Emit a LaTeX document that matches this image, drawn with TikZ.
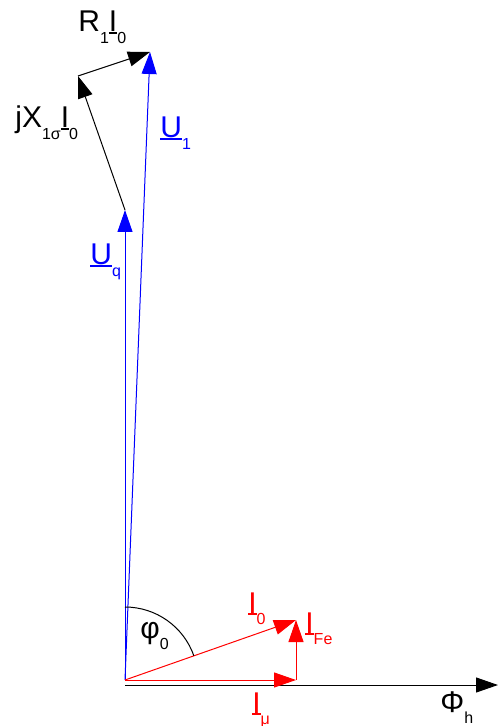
\documentclass[tikz,border=0pt]{standalone}
\usepackage{fontspec}
\setmainfont{Liberation Sans}
\usetikzlibrary{arrows.meta}
\newcommand{\sbs}[1]{\raisebox{-5.6pt}{\fontsize{8}{8}\selectfont #1}}
\newcommand{\ulin}[1]{\setbox0\hbox{#1}\rlap{\rule[-0.9pt]{\wd0}{0.9pt}}\box0}
\newcommand{\phs}[2]{\ulin{#1}\sbs{#2}}

\begin{document}
\begin{tikzpicture}[x=0.5pt,y=-0.5pt,
	vec/.style={-{Triangle[length=11pt,width=7.5pt]},line width=0.5pt},
	lbl/.style={inner sep=0pt,anchor=base west,font=\fontsize{15}{17}\selectfont}]
\useasboundingbox (0,0) rectangle (498,726);
% points of the diagram
\coordinate (O)   at (125,680);
\coordinate (A0)  at (125,685);
\coordinate (Ph)  at (498,685);
\coordinate (Uq)  at (125,210);
\coordinate (Jx)  at (78,76);
\coordinate (U1)  at (150,52);
\coordinate (Imu) at (296,680);
\coordinate (I0)  at (296,620);
% axis
\draw[vec] (A0) -- (Ph);
% voltages
\draw[vec,blue] (O) -- (Uq);
\draw[vec,blue] (O) -- (U1);
\draw[vec] (Uq) -- (Jx);
\draw[vec] (Jx) -- (U1);
% currents
\draw[vec,red] (O) -- (Imu);
\draw[vec,red] (Imu) -- (I0);
\draw[vec,red] (O) -- (I0);
% angle
\draw[line width=0.5pt] (O) ++(0,-73) arc[start angle=-90,end angle=-19.4,radius=73];
% labels
\node[lbl] (lR)   at (78,32)   {R\sbs{1}\phs{I}{0}};
\node[lbl] (lX)   at (15,128)  {jX\sbs{1σ}\phs{I}{0}};
\node[lbl,blue] (lU1) at (160,138) {\phs{U}{1}};
\node[lbl,blue] (lUq) at (90,265)  {\phs{U}{q}};
\node[lbl] (lphi) at (140,638) {φ\sbs{0}};
\node[lbl,red] (lI0)  at (248,613) {\phs{I}{0}};
\node[lbl,red] (lIFe) at (305,633) {\phs{I}{Fe}};
\node[lbl,red] (lImu) at (252,713) {\phs{I}{μ}};
\node[lbl] (lPh)  at (440,712) {Φ\sbs{h}};
\end{tikzpicture}
\end{document}
